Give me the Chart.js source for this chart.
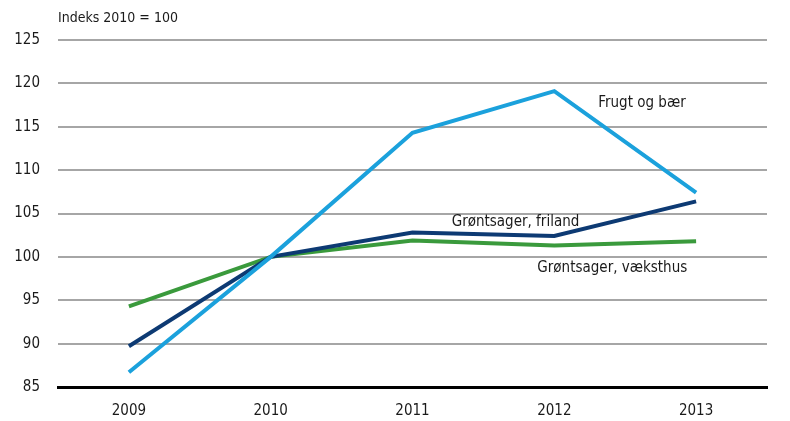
<!DOCTYPE html>
<html>
<head>
<meta charset="utf-8">
<script src="https://cdn.jsdelivr.net/npm/chart.js@4/dist/chart.umd.min.js"></script>
<style>
  html, body { margin: 0; padding: 0; background: #fff; }
  #wrap { width: 790px; height: 421px; position: relative; }
</style>
</head>
<body>
<div id="wrap"><canvas id="chart"></canvas></div>
<script>
// data
const years = ['2009', '2010', '2011', '2012', '2013'];
const frugt = [86.7, 100, 114.3, 119.1, 107.4];
const friland = [89.7, 100, 102.8, 102.4, 106.4];
const vaeksthus = [94.3, 100, 101.9, 101.3, 101.8];
const yTicks = [85, 90, 95, 100, 105, 110, 115, 120, 125];

const fontFamily = "'Liberation Sans Narrow', 'DejaVu Sans Condensed', 'Roboto', sans-serif";

// series names drawn next to the lines: [text, category index, px shift, value, align]
const lineLabels = [
    ['Frugt og bær', 3, 44, 117.7, 'left'],
    ['Grøntsager, friland', 2, 103, 104.0, 'center'],
    ['Grøntsager, væksthus', 3, 58, 98.7, 'center']
];

const labelPlugin = {
    id: 'labels',
    afterDraw(chart) {
        const ctx = chart.ctx;
        const x = chart.scales.x;
        const y = chart.scales.y;
        ctx.save();
        ctx.fillStyle = '#1a1a1a';
        ctx.textBaseline = 'middle';
        ctx.font = '15px ' + fontFamily;
        lineLabels.forEach(l => {
            ctx.textAlign = l[4];
            ctx.fillText(l[0], x.getPixelForValue(l[1]) + l[2], y.getPixelForValue(l[3]));
        });
        // unit note above the axis
        ctx.textAlign = 'left';
        ctx.font = '14px ' + fontFamily;
        ctx.fillText('Indeks 2010 = 100', chart.chartArea.left, 18);
        ctx.restore();
    }
};

const ctx = document.getElementById('chart').getContext('2d');
new Chart(ctx, {
    type: 'line',
    data: {
        labels: years,
        datasets: [
            { label: 'Frugt og bær', data: frugt, borderColor: '#1ba1dc' },
            { label: 'Grøntsager, friland', data: friland, borderColor: '#0d3a73' },
            { label: 'Grøntsager, væksthus', data: vaeksthus, borderColor: '#3a9a3c' }
        ]
    },
    options: {
        responsive: true,
        maintainAspectRatio: false,
        animation: false,
        elements: {
            line: { borderWidth: 4, tension: 0, borderCapStyle: 'butt' },
            point: { radius: 0 }
        },
        layout: { padding: { top: 40, right: 23, bottom: 0, left: 0 } },
        plugins: {
            legend: { display: false },
            tooltip: { enabled: false }
        },
        scales: {
            x: {
                offset: true,
                grid: { display: false },
                border: { display: true, color: '#000', width: 3 },
                ticks: { color: '#1a1a1a', font: { family: fontFamily, size: 15 }, padding: 7, maxRotation: 0 },
                afterFit: s => { s.height = 34; }
            },
            y: {
                min: 85,
                max: 125,
                afterBuildTicks: s => { s.ticks = yTicks.map(v => ({ value: v })); },
                grid: { color: '#a6a6a6', lineWidth: 2, drawTicks: false },
                border: { display: false },
                ticks: { color: '#1a1a1a', font: { family: fontFamily, size: 15 }, padding: 18 },
                afterFit: s => { s.width = 58; }
            }
        }
    },
    plugins: [labelPlugin]
});
</script>
</body>
</html>
